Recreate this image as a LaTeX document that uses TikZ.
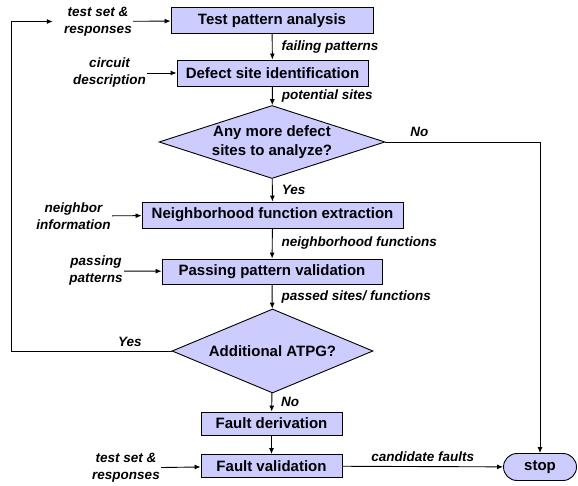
\documentclass[tikz,border=0pt]{standalone}
\usepackage{fontspec}
\setmainfont{Liberation Sans}
\usetikzlibrary{shapes.geometric, shapes.misc, arrows.meta}

\definecolor{lav}{RGB}{204,204,255}

\begin{document}
\begin{tikzpicture}[x=1pt, y=-1pt, ->, >={Latex[length=6pt,width=5pt]}, line width=0.9pt,
    procbox/.style={draw, fill=lav, inner sep=0pt,
      font=\bfseries\fontsize{15}{18}\selectfont},
    decision/.style={diamond, draw, fill=lav, inner sep=0pt, aspect=3,
      align=center, font=\bfseries\fontsize{15}{19}\selectfont},
    inlabel/.style={align=center, inner sep=1pt,
      font=\bfseries\itshape\fontsize{13.5}{17}\selectfont},
    elabel/.style={inner sep=0pt,
      font=\bfseries\itshape\fontsize{13.5}{15}\selectfont}]

  \useasboundingbox (0,0) rectangle (578,486);

  % main column
  \node[procbox, minimum width=202pt, minimum height=26pt]
    (tpa)  at (272,20.5)  {Test pattern analysis};
  \node[procbox, minimum width=191pt, minimum height=26pt]
    (dsi)  at (272.5,73)  {Defect site identification};
  \node[decision, minimum width=226pt, minimum height=72pt]
    (more) at (272,142)   {Any more defect\\sites to analyze?};
  \node[procbox, minimum width=261pt, minimum height=26pt]
    (nfe)  at (272.5,215) {Neighborhood function extraction};
  \node[procbox, minimum width=220pt, minimum height=25pt]
    (ppv)  at (272,271.5) {Passing pattern validation};
  \node[decision, minimum width=201pt, minimum height=84pt]
    (atpg) at (272.5,351) {Additional ATPG?};
  \node[procbox, minimum width=141pt, minimum height=23pt]
    (fd)   at (271.5,423.5) {Fault derivation};
  \node[procbox, minimum width=141pt, minimum height=23pt]
    (fv)   at (271.5,466) {Fault validation};
  \node[rounded rectangle, draw, fill=lav, inner sep=0pt,
        minimum width=73pt, minimum height=27pt,
        font=\bfseries\fontsize{15}{18}\selectfont]
    (stop) at (540,467) {stop};

  % inputs on the left
  \node[inlabel] (in1) at (98,21.5)  {test set \&\\responses};
  \node[inlabel] (in2) at (109.5,73) {circuit\\description};
  \node[inlabel] (in3) at (73.5,216) {neighbor\\information};
  \node[inlabel] (in4) at (96,271)   {passing\\patterns};
  \node[inlabel] (in5) at (126,468)  {test set \&\\responses};

  \coordinate (back) at (11,351);

  \path (in1) edge (tpa)
        (in2) edge (dsi)
        (in3) edge (nfe)
        (in4) edge (ppv)
        (in5) edge (fv);

  \path (tpa)  edge node[elabel, right=9pt] {failing patterns} (dsi)
        (dsi)  edge node[elabel, right=9pt] {potential sites} (more)
        (more) edge node[elabel, right=9pt] {Yes} (nfe)
        (nfe)  edge node[elabel, right=9pt] {neighborhood functions} (ppv)
        (ppv)  edge node[elabel, right=9pt] {passed sites/ functions} (atpg)
        (atpg) edge node[elabel, right=9pt] {No} (fd)
        (fd)   edge (fv)
        (fv)   edge node[elabel, above=4pt] {candidate faults} (stop);

  \draw (more.east) -| node[elabel, pos=0.11, above=5pt] {No} (stop.north);
  \draw (atpg.west) -- node[elabel, pos=0.26, above=4pt] {Yes} (back)
        |- ([xshift=-10pt]in1.west);

\end{tikzpicture}
\end{document}
